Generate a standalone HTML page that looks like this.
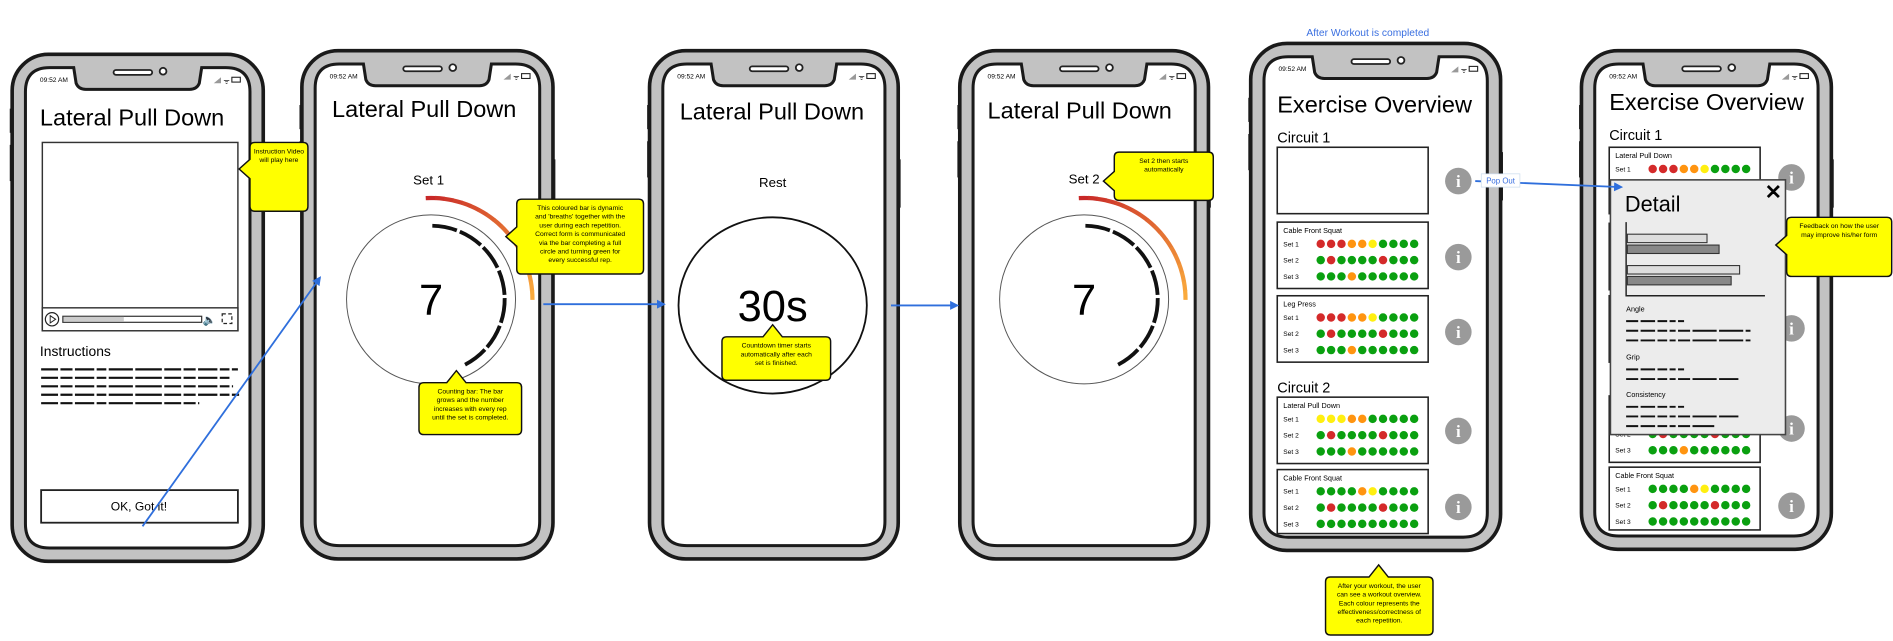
<!DOCTYPE html>
<html><head><meta charset="utf-8"><style>
html,body{margin:0;padding:0;background:#fff;}
svg{display:block;font-family:"Liberation Sans",sans-serif;}
</style></head><body>
<svg id="s" width="1893" height="641" viewBox="0 0 1568 531" xmlns="http://www.w3.org/2000/svg">
<defs>
<marker id="ah" viewBox="0 0 10 10" refX="8" refY="5" markerWidth="5" markerHeight="5" orient="auto"><path d="M0,0 L10,5 L0,10 z" fill="#2f6fdc"/></marker>
</defs>
<g id="phones"></g>
<g id="content">
<text x="33" y="104" font-size="19.5">Lateral Pull Down</text>
<rect x="35" y="118" width="162" height="156" fill="#fff" stroke="#333" stroke-width="1.2"/>
<rect x="35" y="255" width="162" height="19" fill="#fff" stroke="#333" stroke-width="1.2"/>
<circle cx="43" cy="264.5" r="5.5" fill="none" stroke="#222"/>
<path d="M41.5,261.5 L46,264.5 L41.5,267.5z" fill="none" stroke="#222" stroke-width="0.8"/>
<rect x="52" y="262" width="115" height="5" fill="#fff" stroke="#333" stroke-width="1"/>
<rect x="52.5" y="262.5" width="50" height="4" fill="#ccc"/>
<text x="168" y="268" font-size="9">🔈</text>
<rect x="184" y="260" width="8" height="8" fill="none" stroke="#222" stroke-dasharray="3,2"/>
<text x="33" y="295" font-size="11.5">Instructions</text>
<g stroke="#111" stroke-width="1.8" stroke-dasharray="14,2,10,2,16,2,8,2,20,2,22,2">
<line x1="34" y1="306" x2="197" y2="306"/><line x1="34" y1="313" x2="190" y2="313"/><line x1="34" y1="320" x2="193" y2="320"/><line x1="34" y1="327" x2="198" y2="327"/><line x1="34" y1="334" x2="165" y2="334"/>
</g>
<rect x="34" y="406" width="163" height="27" fill="#fff" stroke="#222" stroke-width="1.5"/>
<text x="115" y="423" font-size="10" text-anchor="middle">OK, Got it!</text>
<text x="275" y="97" font-size="19.5">Lateral Pull Down</text>
<text x="355" y="153" font-size="11" text-anchor="middle">Set 1</text>
<circle cx="357" cy="248" r="70" fill="none" stroke="#555" stroke-width="0.8"/>
<text x="357" y="261" font-size="36" text-anchor="middle">7</text>
<g id="arcs2"></g>
<text x="563" y="99" font-size="19.5">Lateral Pull Down</text>
<text x="640" y="155" font-size="11" text-anchor="middle">Rest</text>
<ellipse cx="640" cy="253" rx="78" ry="73" fill="#fff" stroke="#111" stroke-width="1.5"/>
<text x="640" y="266" font-size="36" text-anchor="middle">30s</text>
<text x="818" y="98" font-size="19.5">Lateral Pull Down</text>
<text x="898" y="152" font-size="11" text-anchor="middle">Set 2</text>
<circle cx="898" cy="248" r="70" fill="none" stroke="#555" stroke-width="0.8"/>
<text x="898" y="261" font-size="36" text-anchor="middle">7</text>
<g id="arcs4"></g>
<text x="1133" y="30" font-size="8.5" fill="#3a6fe0" text-anchor="middle">After Workout is completed</text>
<text x="1058" y="93" font-size="19.5">Exercise Overview</text>
<text x="1058" y="118" font-size="12">Circuit 1</text>
<rect x="1058" y="122" width="125" height="55" fill="#fff" stroke="#222" stroke-width="1.3"/>
<text x="1058" y="325" font-size="12">Circuit 2</text>
<g id="cards5"></g>
<text x="1333" y="91" font-size="19.5">Exercise Overview</text>
<text x="1333" y="116" font-size="12">Circuit 1</text>
<text x="1333" y="323" font-size="12">Circuit 2</text>
<g id="cards6"></g>
</g>
<g id="overlay"></g>
</svg>
<script>
const NS='http://www.w3.org/2000/svg';
const svg=document.getElementById('s');
function mk(tag,attrs,parent){const e=document.createElementNS(NS,tag);for(const k in attrs)e.setAttribute(k,attrs[k]);(parent||svg).appendChild(e);return e;}

const phoneX=[10,250,538,795,1036,1310];
const phoneY=[45,42,42,42,36,42];
const phoneW=[208,208,206,206,207,207];
const phoneH=[420,421,421,421,420,413];
const pg=document.getElementById('phones');
for(let i=0;i<phoneX.length;i++){
  const x=phoneX[i],y=phoneY[i],w=phoneW[i],h=phoneH[i];
  const g=mk('g',{},pg);
  
  
  mk('rect',{x:x-2,y:y+45,width:4,height:20,fill:'#222'},g);
  mk('rect',{x:x-2,y:y+75,width:4,height:30,fill:'#222'},g);
  mk('rect',{x:x+w-2,y:y+90,width:4,height:40,fill:'#222'},g);
  mk('rect',{x:x,y:y,width:w,height:h,rx:30,fill:'#c2c2c2',stroke:'#1a1a1a','stroke-width':3},g);
  const sx=x+11,sy=y+11,sw=w-22,sh=h-22;
  const scr=mk('path',{d:`M${sx+20},${sy} L${sx+40},${sy} L${sx+42},${sy+13} Q${sx+44},${sy+18} ${sx+50},${sy+18} L${sx+sw-50},${sy+18} Q${sx+sw-44},${sy+18} ${sx+sw-42},${sy+13} L${sx+sw-40},${sy} L${sx+sw-20},${sy} Q${sx+sw},${sy} ${sx+sw},${sy+20} L${sx+sw},${sy+sh-20} Q${sx+sw},${sy+sh} ${sx+sw-20},${sy+sh} L${sx+20},${sy+sh} Q${sx},${sy+sh} ${sx},${sy+sh-20} L${sx},${sy+20} Q${sx},${sy} ${sx+20},${sy} Z`,fill:'#fff',stroke:'#1a1a1a','stroke-width':2.5},g);
  
  mk('rect',{x:x+w/2-20,y:y+13,width:32,height:4,rx:2,fill:'#fff',stroke:'#222','stroke-width':1.5},g);
  mk('circle',{cx:x+w/2+21,cy:y+14,r:2.8,fill:'#fff',stroke:'#222','stroke-width':1.5},g);
  const t=mk('text',{x:sx+12,y:sy+12,'font-size':5.5},g);
  
  t.textContent='09:52 AM';
  mk('path',{d:`M${sx+sw-30},${sy+13} l6,-5 v5z`,fill:'#999'},g);
  mk('text',{x:sx+sw-22,y:sy+13,'font-size':6},g).textContent='ᯤ';
  mk('rect',{x:sx+sw-15,y:sy+8,width:7,height:4,fill:'none',stroke:'#222','stroke-width':0.9},g);
}

function pt(cx,cy,r,a){const t=(a-90)*Math.PI/180;return [cx+r*Math.cos(t),cy+r*Math.sin(t)];}
function arc(parent,cx,cy,r,a0,a1,col,w){const p=pt(cx,cy,r,a0),q=pt(cx,cy,r,a1);return mk('path',{d:`M${p[0]},${p[1]} A${r},${r} 0 ${a1-a0>180?1:0} 1 ${q[0]},${q[1]}`,fill:'none',stroke:col,'stroke-width':w},parent);}
const repCount=[7,7];
const breatheDeg=[90,90];
const arcCenters=[[357,248,'arcs2'],[898,248,'arcs4']];
arcCenters.forEach((c,k)=>{
  const g=document.getElementById(c[2]);
  for(let j=0;j<repCount[k];j++){
    const seg=arc(g,c[0],c[1],61,j*22+1,j*22+20.5,'#111',3.2);
    
    
  }
  const n=18;
  for(let j=0;j<n;j++){
    const f=j/(n-1);
    const col=`rgb(${Math.round(200+50*f)},${Math.round(40+130*f)},${Math.round(40+20*f)})`;
    const b=arc(g,c[0],c[1],84,-3+(breatheDeg[k]+3)*j/n,-3+(breatheDeg[k]+3)*(j+1)/n+0.3,col,3.5);
    
    
  }
});

const COL={R:'#d42a2a',O:'#ff9410',Y:'#ffef10',G:'#0aa010'};
const cardNames5=['Cable Front Squat','Leg Press','Lateral Pull Down','Cable Front Squat'];
const cardY5=[184,245,329,389];
const cardSets5=[
 ['RRROOYGGGG','GRGGGGRGGG','GGGOGGGGGG'],
 ['RRROOYGGGG','GRGGGGRGGG','GGGOGGGGGG'],
 ['YYYOOGGGGG','GRGGGGRGGG','GGGOGGGGGG'],
 ['GGGGOYGGGG','GRGGGGRGGG','GGGGGGGGGG']];
const cardNames6=['Lateral Pull Down','','','','Cable Front Squat'];
const cardY6=[122,185,245,328,387];
const cardSets6=[
 ['RRROOYGGGG','GRGGGGRGGG','GGGOGGGGGG'],
 ['RRROOYGGGG','GRGGGGRGGG','GGGOGGGGGG'],
 ['RRROOYGGGG','GRGGGGRGGG','GGGOGGGGGG'],
 ['YYYOOGGGGG','GRGGGGRGGG','GGGOGGGGGG'],
 ['GGGGOYGGGG','GRGGGGRGGG','GGGGGGGGGG']];
function cards(gid,x0,names,ys,sets,clipBottom){
  const g=document.getElementById(gid);
  names.forEach((nm,i)=>{
    const y=ys[i];
    const h=Math.min(55,clipBottom-y);
    const c=mk('rect',{x:x0,y:y,width:125,height:h,fill:'#fff',stroke:'#222','stroke-width':1.3},g);
    
    
    const t=mk('text',{x:x0+5,y:y+9,'font-size':6},g);
    
    t.textContent=nm;
    sets[i].forEach((row,r)=>{
      const ry=y+18+r*13.5;
      if(ry>clipBottom-2)return;
      const l=mk('text',{x:x0+5,y:ry+2,'font-size':5.5},g);
      
      l.textContent='Set '+(r+1);
      row.split('').forEach((k,d)=>{
        const dot=mk('circle',{cx:x0+36+d*8.6,cy:ry,r:3.5,fill:COL[k]},g);
        
        
      });
    });
  });
}
cards('cards5',1058,cardNames5,cardY5,cardSets5,442);
cards('cards6',1333,cardNames6,cardY6,cardSets6,439);
const infoX=[1208,1208,1208,1208,1208,1484,1484,1484,1484,1484];
const infoY=[150,213,275,357,420,147,210,272,355,419];
infoX.forEach((x,i)=>{
  const c=mk('circle',{cx:x,cy:infoY[i],r:11,fill:'#9a9a9a'},document.getElementById('content'));
  
  
  const t=mk('text',{x:x,y:infoY[i]+5,'font-size':14,'font-weight':'bold',fill:'#fff','text-anchor':'middle','font-family':'Liberation Serif'},document.getElementById('content'));
  t.textContent='i';
});

const ov=document.getElementById('overlay');
const pop=mk('rect',{x:1334,y:149,width:145,height:211,fill:'#ececec',stroke:'#444','stroke-width':1.3},ov);


const dt=mk('text',{x:1346,y:175,'font-size':18},ov);

dt.textContent='Detail';
const cl=mk('text',{x:1469,y:165,'font-size':17,'font-weight':'bold','text-anchor':'middle'},ov);


cl.textContent='✕';
mk('path',{d:'M1347,184 V245 H1462',fill:'none',stroke:'#222','stroke-width':1.2},ov);
const barVals=[66,76,93,86];
const barY=[194,203,220,229];
const barFill=['#ddd','#888','#ddd','#888'];
barVals.forEach((v,i)=>{
  const b=mk('rect',{x:1348,y:barY[i],width:v,height:7,fill:barFill[i],stroke:'#333','stroke-width':0.9},ov);
  
  
});
const secs=[['Angle',258,[1395,1450,1450]],['Grip',298,[1395,1440]],['Consistency',329,[1395,1440,1420]]];
secs.forEach(s=>{
  const t=mk('text',{x:1347,y:s[1],'font-size':6},ov);
  
  t.textContent=s[0];
  s[2].forEach((x2,j)=>{
    mk('line',{x1:1347,y1:s[1]+8+j*8,x2:x2,y2:s[1]+8+j*8,stroke:'#111','stroke-width':1.6,'stroke-dasharray':'10,2,12,2,8,2,5,2,10,2,20,2,20,2'},ov);
  });
});
function arrow(x1,y1,x2,y2,name){const a=mk('line',{x1,y1,x2,y2,stroke:'#2f6fdc','stroke-width':1.5,'marker-end':'url(#ah)'},ov);}
arrow(118,436,265,230,'flow-arrow-start');
arrow(450,252,550,252,'flow-arrow-rest');
arrow(738,253,793,253,'flow-arrow-set2');
arrow(1222,150,1343,155,'flow-arrow-popout');
mk('rect',{x:1227,y:144,width:32,height:11,fill:'#fff',stroke:'#cde',"stroke-width":0.6},ov);
const pot=mk('text',{x:1243,y:152,'font-size':6.5,fill:'#3a6fe0','text-anchor':'middle'},ov);

pot.textContent='Pop Out';

const callouts=[
 [207,118,48,57,'L',140,['Instruction Video','will play here'],'callout-video'],
 [428,165,105,62,'L',196,['This coloured bar is dynamic',"and 'breaths' together with the",'user during each repetition.','Correct form is communicated','via the bar completing a full','circle and turning green for','every successful rep.'],'callout-breathing-bar'],
 [347,317,85,43,'T',378,['Counting bar: The bar','grows and the number','increases with every rep','until the set is completed.'],'callout-counting-bar'],
 [598,279,90,36,'T',640,['Countdown timer starts','automatically after each','set is finished.'],'callout-countdown'],
 [923,126,82,40,'L',150,['Set 2 then starts','automatically'],'callout-set2'],
 [1098,478,89,48,'T',1142,['After your workout, the user','can see a workout overview.','Each colour represents the','effectiveness/correctness of','each repetition.'],'callout-overview'],
 [1480,180,87,49,'L',203,['Feedback on how the user','may improve his/her form'],'callout-feedback']];
callouts.forEach(c=>{
  const [x,y,w,h,side,p,lines,name]=c;
  let d;
  if(side==='L')d=`M${x+4},${y} H${x+w-4} Q${x+w},${y} ${x+w},${y+4} V${y+h-4} Q${x+w},${y+h} ${x+w-4},${y+h} H${x+4} Q${x},${y+h} ${x},${y+h-4} V${p+8} L${x-9},${p} L${x},${p-8} V${y+4} Q${x},${y} ${x+4},${y} Z`;
  else d=`M${x+4},${y} H${p-8} L${p},${y-10} L${p+8},${y} H${x+w-4} Q${x+w},${y} ${x+w},${y+4} V${y+h-4} Q${x+w},${y+h} ${x+w-4},${y+h} H${x+4} Q${x},${y+h} ${x},${y+h-4} V${y+4} Q${x},${y} ${x+4},${y} Z`;
  const b=mk('path',{d,fill:'#ffff00',stroke:'#111','stroke-width':1.2},ov);
  
  
  lines.forEach((ln,i)=>{
    const t=mk('text',{x:x+w/2,y:y+9+i*7.2,'font-size':5.6,'text-anchor':'middle'},ov);
    t.textContent=ln;
  });
});
</script>
</body></html>
